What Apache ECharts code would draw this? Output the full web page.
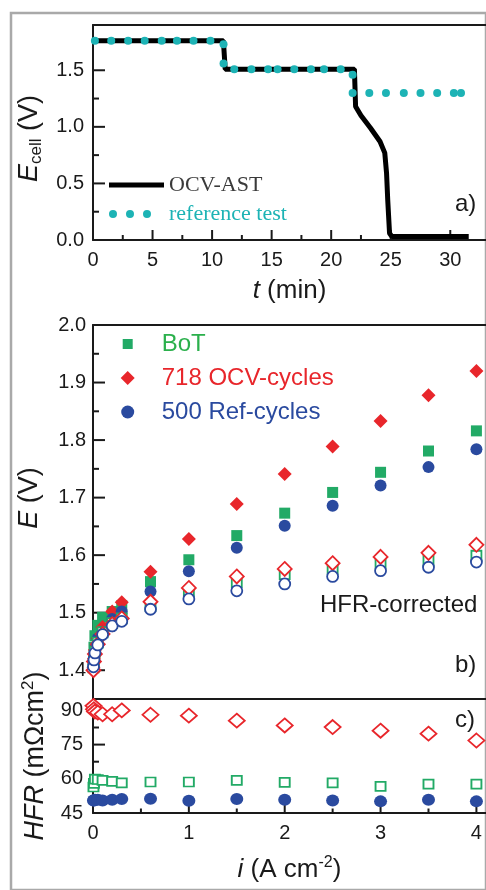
<!DOCTYPE html>
<html><head><meta charset="utf-8">
<script src="https://cdn.jsdelivr.net/npm/echarts@6/dist/echarts.min.js"></script>
<style>html,body{margin:0;padding:0;background:#fff}#c{width:486px;height:890px}</style>
</head><body><div id="c"></div>
<script>
// ---------- Panel a: cell voltage vs time ----------
const tOCV = [0, 10.95, 11.1, 21.95, 22.05, 22.5, 23.3, 24.1, 24.5, 24.65, 24.75, 24.9, 25.1, 26, 28, 30, 31.55];
const eOCV = [1.76, 1.76, 1.51, 1.51, 1.18, 1.10, 0.99, 0.87, 0.77, 0.59, 0.35, 0.06, 0.03, 0.03, 0.03, 0.03, 0.03];
const tRef = [0.16, 1.53, 2.95, 4.34, 5.77, 7.05, 8.44, 9.86, 10.96, 10.96, 11.86, 13.3, 14.7, 15.5, 16.9, 18.3, 19.4, 20.8, 21.8, 21.8, 23.2, 24.6, 26.1, 27.5, 28.9, 30.3, 30.9];
const eRef = [1.76, 1.76, 1.76, 1.76, 1.76, 1.76, 1.76, 1.76, 1.73, 1.56, 1.51, 1.51, 1.51, 1.51, 1.51, 1.51, 1.51, 1.51, 1.46, 1.30, 1.30, 1.30, 1.30, 1.30, 1.30, 1.30, 1.30];

// ---------- Panel b / c: polarization curves and HFR ----------
const current = [0.005, 0.01, 0.02, 0.05, 0.1, 0.2, 0.3, 0.6, 1.0, 1.5, 2.0, 2.5, 3.0, 3.5, 4.0];
const eBoT = [1.42, 1.44, 1.46, 1.478, 1.492, 1.502, 1.512, 1.554, 1.592, 1.634, 1.673, 1.709, 1.744, 1.781, 1.816];
const eOCV718 = [1.405, 1.42, 1.435, 1.455, 1.475, 1.502, 1.518, 1.571, 1.628, 1.689, 1.741, 1.789, 1.833, 1.878, 1.920];
const eRef500 = [1.41, 1.422, 1.436, 1.455, 1.467, 1.489, 1.502, 1.537, 1.572, 1.613, 1.651, 1.686, 1.721, 1.753, 1.784];
const eBoTcorr = [1.405, 1.418, 1.432, 1.448, 1.466, 1.482, 1.49, 1.512, 1.535, 1.553, 1.567, 1.576, 1.585, 1.59, 1.599];
const eOCV718corr = [1.40, 1.415, 1.428, 1.445, 1.463, 1.48, 1.49, 1.519, 1.543, 1.563, 1.576, 1.586, 1.597, 1.604, 1.618];
const eRef500corr = [1.406, 1.418, 1.430, 1.444, 1.462, 1.477, 1.485, 1.506, 1.524, 1.538, 1.550, 1.563, 1.573, 1.579, 1.588];
const hfrBoT = [56.4, 58.0, 59.9, 59.7, 59.3, 58.9, 58.2, 58.6, 58.6, 59.3, 58.4, 58.2, 56.7, 57.7, 57.7];
const hfrOCV718 = [92.0, 90.5, 89.5, 89.0, 88.3, 88.3, 90.0, 88.1, 87.7, 85.5, 83.4, 82.7, 81.1, 79.8, 76.8];
const hfrRef500 = [50.5, 50.5, 50.8, 50.8, 50.5, 50.8, 51.1, 51.3, 50.4, 51.1, 50.8, 50.5, 50.1, 50.8, 50.1];

// ---------- Axis ranges, label steps and tick values ----------
const tRange = [0, 33], tStep = 5;
const eCellRange = [0, 1.9], eCellStep = 0.5;
const eRange = [1.35, 2.0], eLabelRange = [1.4, 2.0], eStep = 0.1;
const hfrRange = [45, 95], hfrStep = 15;
const iRange = [0, 4.1], iStep = 1;
const tTicks = [0, 5, 10, 15, 20, 25, 30];
const tMinor = [2.5, 7.5, 12.5, 17.5, 22.5, 27.5];
const eCellTicks = [0.5, 1.0, 1.5];
const eCellMinor = [0.25, 0.75, 1.25, 1.75];
const eTicks = [1.4, 1.5, 1.6, 1.7, 1.8, 1.9];
const eMinor = [1.45, 1.55, 1.65, 1.75, 1.85, 1.95];
const hfrTicks = [60, 75, 90];
const hfrMinor = [52.5, 67.5, 82.5];
const iTicks = [1, 2, 3, 4];
const iMinor = [0.5, 1.5, 2.5, 3.5];

const FONT = 'Liberation Sans';
const INK = '#1a1a1a';
const GREEN = '#22aa66', RED = '#e8262b', BLUE = '#2a4a9f', TEAL = '#1db3b5';

function zip(a, b) { return a.map((v, k) => [v, b[k]]); }

function axis(o) {
  return {
    type: 'value', gridIndex: o.grid, position: o.pos, min: o.range[0], max: o.range[1],
    interval: o.step || undefined,
    axisLine: { show: !!o.line, onZero: false, lineStyle: { color: INK, width: 2 } },
    axisTick: { show: false },
    axisLabel: o.labels ? { show: true, formatter: o.fmt, fontFamily: FONT, fontSize: 20, color: INK, margin: o.margin,
      showMaxLabel: !!o.showMax, showMinLabel: true } : { show: false },
    splitLine: { show: false },
    name: o.name || '', nameLocation: 'middle', nameGap: o.nameGap || 0,
    nameTextStyle: o.nameStyle || {}
  };
}

function rich(fs) {
  return {
    n: { fontFamily: FONT, fontSize: fs, color: INK, lineHeight: fs + 4 },
    i: { fontFamily: FONT, fontSize: fs, color: INK, fontStyle: 'italic', lineHeight: fs + 4 },
    sub: { fontFamily: FONT, fontSize: Math.round(fs * 0.62), color: INK, lineHeight: Math.round(fs * 0.62), verticalAlign: 'bottom' },
    sup: { fontFamily: FONT, fontSize: Math.round(fs * 0.62), color: INK, lineHeight: Math.round(fs * 0.62), verticalAlign: 'top' }
  };
}

const fmt1 = v => v.toFixed(1);
const fmt0 = v => String(Math.round(v));

const grids = [
  { left: 93, top: 25, width: 401.5, height: 215 },
  { left: 93, top: 325, width: 396.5, height: 374 },
  { left: 93, top: 699, width: 396.5, height: 114 },
  { left: 93, top: 325, width: 396.5, height: 345.2 },   // label overlay for panel b (1.4 – 2.0)
  { left: 11, top: 13, width: 700, height: 1000, show: true, z: -1, backgroundColor: 'transparent', borderColor: '#a9a9a9', borderWidth: 2.5 } // figure frame
];

const xAxes = [
  axis({ grid: 0, pos: 'bottom', range: tRange, step: tStep, line: true, labels: true, fmt: fmt0, margin: 10,
    name: '{i|t}{n| (min)}', nameGap: 36, nameStyle: { rich: rich(26) } }),
  axis({ grid: 0, pos: 'top', range: tRange, line: true }),
  axis({ grid: 1, pos: 'bottom', range: iRange, line: true }),
  axis({ grid: 1, pos: 'top', range: iRange, line: true }),
  axis({ grid: 2, pos: 'bottom', range: iRange, step: iStep, line: true, labels: true, fmt: fmt0, margin: 10,
    name: '{i|i}{n| (A cm}{sup|-2}{n|)}', nameGap: 42, nameStyle: { rich: rich(26) } }),
  axis({ grid: 3, pos: 'bottom', range: iRange }),
  axis({ grid: 4, pos: 'bottom', range: [0, 1] })
];

const yAxes = [
  axis({ grid: 0, pos: 'left', range: eCellRange, step: eCellStep, line: true, labels: true, fmt: fmt1, margin: 9,
    name: '{i|E}{sub|cell}{n| (V)}', nameGap: 40, nameStyle: { rich: rich(27), padding: [0, 12, 0, 0] } }),
  axis({ grid: 1, pos: 'left', range: eRange, line: true,
    name: '{i|E}{n| (V)}', nameGap: 48, nameStyle: { rich: rich(27), padding: [0, 0, 0, 28] } }),
  axis({ grid: 2, pos: 'left', range: hfrRange, step: hfrStep, line: true, labels: true, fmt: fmt0, margin: 10,
    name: '{i|HFR}{n| (mΩcm}{sup|2}{n|)}', nameGap: 42, nameStyle: { rich: rich(27) } }),
  axis({ grid: 3, pos: 'left', range: eLabelRange, step: eStep, labels: true, fmt: fmt1, margin: 7, showMax: true }),
  axis({ grid: 4, pos: 'left', range: [0, 1] })
];

// inward tick marks: thin rect symbols placed through the axes' own scales
function ticks(name, values, dir, xi, yi, fixed, len) {
  return {
    type: 'scatter', name, xAxisIndex: xi, yAxisIndex: yi, silent: true, z: 1, clip: false,
    data: values.map(v => dir === 'x' ? [v, fixed] : [fixed, v]),
    symbol: 'rect',
    symbolSize: dir === 'x' ? [2, len] : [len, 2],
    symbolOffset: dir === 'x' ? [0, -len / 2] : [len / 2, 0],
    itemStyle: { color: INK, opacity: 1 }
  };
}

function filled(name, data, sym, size, color, xi, yi) {
  return { type: 'scatter', name, data, symbol: sym, symbolSize: size, xAxisIndex: xi, yAxisIndex: yi,
    itemStyle: { color, opacity: 1 }, z: 3 };
}
function open(name, data, sym, size, color, xi, yi) {
  return { type: 'scatter', name, data, symbol: sym, symbolSize: size, xAxisIndex: xi, yAxisIndex: yi,
    itemStyle: { color: '#ffffff', borderColor: color, borderWidth: 1.8, opacity: 1 }, z: 4 };
}

const series = [
  ticks('ta', tTicks, 'x', 0, 0, eCellRange[0], 10),
  ticks('ta-m', tMinor, 'x', 0, 0, eCellRange[0], 5),
  ticks('ea', eCellTicks, 'y', 0, 0, tRange[0], 12),
  ticks('ea-m', eCellMinor, 'y', 0, 0, tRange[0], 6),
  ticks('eb', eTicks, 'y', 2, 1, iRange[0], 12),
  ticks('eb-m', eMinor, 'y', 2, 1, iRange[0], 6),
  ticks('ic', iTicks, 'x', 4, 2, hfrRange[0], 9),
  ticks('ic-m', iMinor, 'x', 4, 2, hfrRange[0], 4.5),
  ticks('hc', hfrTicks, 'y', 4, 2, iRange[0], 12),
  ticks('hc-m', hfrMinor, 'y', 4, 2, iRange[0], 6),

  { type: 'line', name: 'OCV-AST', data: zip(tOCV, eOCV), xAxisIndex: 0, yAxisIndex: 0, showSymbol: false,
    lineStyle: { color: '#000', width: 5 }, itemStyle: { color: '#000' }, z: 2 },
  { type: 'scatter', name: 'reference test', data: zip(tRef, eRef), xAxisIndex: 0, yAxisIndex: 0, symbol: 'circle', symbolSize: 8,
    itemStyle: { color: TEAL, opacity: 1 }, z: 3 },

  filled('BoT', zip(current, eBoT), 'rect', 11, GREEN, 2, 1),
  filled('718 OCV-cycles', zip(current, eOCV718), 'diamond', 14, RED, 2, 1),
  filled('500 Ref-cycles', zip(current, eRef500), 'circle', 12, BLUE, 2, 1),
  open('BoT HFR-corrected', zip(current, eBoTcorr), 'rect', 10, GREEN, 2, 1),
  open('718 OCV-cycles HFR-corrected', zip(current, eOCV718corr), 'diamond', 14, RED, 2, 1),
  open('500 Ref-cycles HFR-corrected', zip(current, eRef500corr), 'circle', 11, BLUE, 2, 1),

  open('BoT HFR', zip(current, hfrBoT), 'rect', [10, 9], GREEN, 4, 2),
  open('718 OCV-cycles HFR', zip(current, hfrOCV718), 'diamond', [16, 14], RED, 4, 2),
  filled('500 Ref-cycles HFR', zip(current, hfrRef500), 'circle', [13, 12], BLUE, 4, 2)
];

const EXT36 = 'M0,0L0,0M36,14L36,14';
const EXT55 = 'M0,0L0,0M55,8L55,8';

function label(text, left, cy) {
  return { text, left, top: cy - 12, padding: 0,
    textStyle: { fontFamily: FONT, fontSize: 24, fontWeight: 'normal', color: INK, lineHeight: 24 } };
}

const option = {
  backgroundColor: '#ffffff',
  animation: false,
  grid: grids,
  xAxis: xAxes,
  yAxis: yAxes,
  title: [
    label('a)', 455, 204),
    label('b)', 455, 665),
    label('c)', 455, 720),
    label('HFR-corrected', 320, 605)
  ],
  legend: [
    { orient: 'vertical', left: 109, top: 174, padding: 0, itemWidth: 55, itemHeight: 8, itemGap: 7, selectedMode: false,
      textStyle: { fontFamily: 'Liberation Serif', fontSize: 22, lineHeight: 22 },
      data: [
        { name: 'OCV-AST', icon: 'path://' + EXT55 + 'M0,1.5L55,1.5L55,6.5L0,6.5Z', textStyle: { color: '#3a3a3a' } },
        { name: 'reference test', icon: 'path://' + EXT55 + 'M0,4A4,4 0 1,1 8,4A4,4 0 1,1 0,4ZM17,4A4,4 0 1,1 25,4A4,4 0 1,1 17,4ZM34,4A4,4 0 1,1 42,4A4,4 0 1,1 34,4Z', textStyle: { color: TEAL } }
      ] },
    { orient: 'vertical', left: 120.7, top: 332, padding: 0, itemWidth: 36, itemHeight: 14, itemGap: 10, selectedMode: false,
      textStyle: { fontFamily: FONT, fontSize: 24, lineHeight: 24 },
      data: [
        { name: 'BoT', icon: 'path://' + EXT36 + 'M2,2L12,2L12,12L2,12Z', textStyle: { color: '#2bb04c' } },
        { name: '718 OCV-cycles', icon: 'path://' + EXT36 + 'M7,0L14,7L7,14L0,7Z', textStyle: { color: RED } },
        { name: '500 Ref-cycles', icon: 'path://' + EXT36 + 'M0.5,7A6.5,6.5 0 1,1 13.5,7A6.5,6.5 0 1,1 0.5,7Z', textStyle: { color: BLUE } }
      ] }
  ],
  series
};

const chart = echarts.init(document.getElementById('c'), null, { renderer: 'canvas' });
chart.setOption(option);
</script>
</body></html>
